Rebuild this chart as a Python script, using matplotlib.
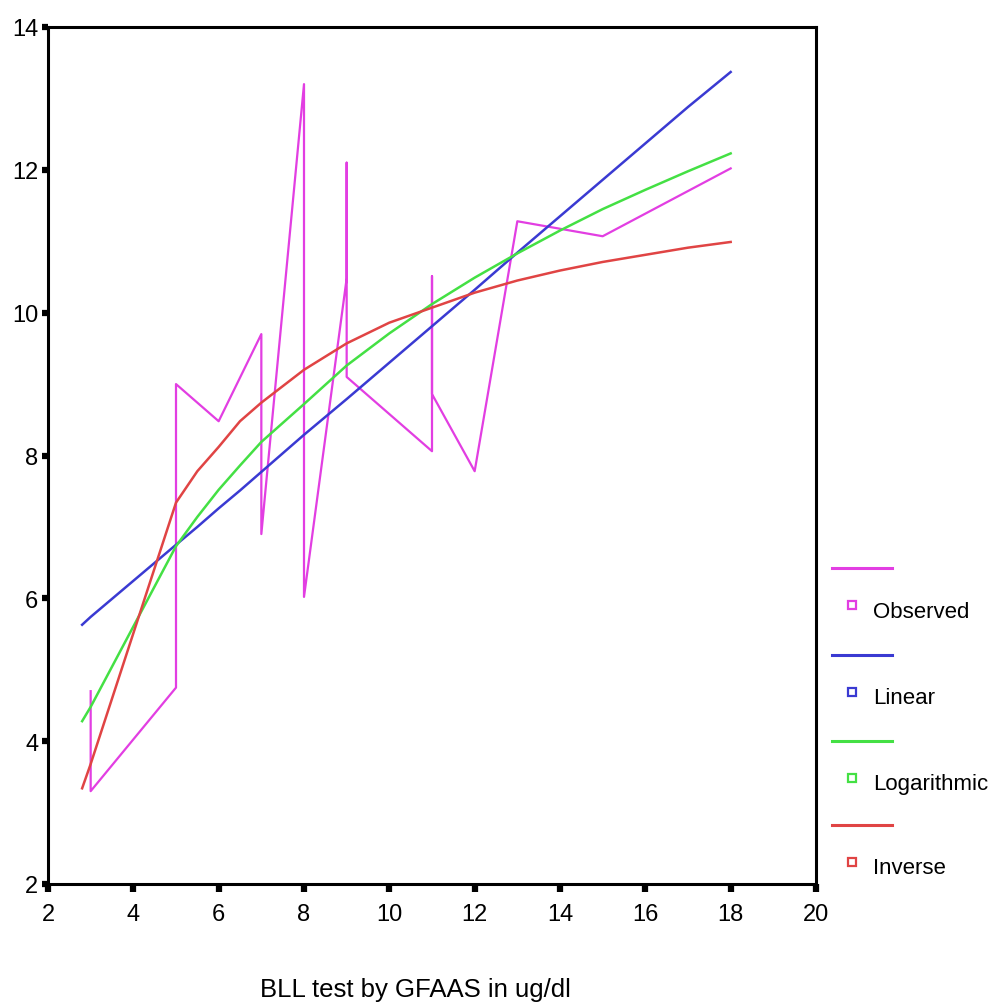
import matplotlib
matplotlib.use('Agg')
import matplotlib.pyplot as plt
from matplotlib.lines import Line2D

obs_x = [3, 3, 5, 5, 6, 7, 7, 8, 8, 9, 9, 9, 11, 11, 11, 12, 13, 15, 18]
obs_y = [4.70, 3.30, 4.75, 9.00, 8.48, 9.70, 6.90, 13.20, 6.02, 10.48, 12.10,
         9.10, 8.06, 10.51, 8.86, 7.78, 11.28, 11.07, 12.02]

# fitted curves, sampled where the picture shows them (straight from 3 to 5)
fit_x = [2.8, 3, 5, 5.5, 6, 6.5, 7, 8, 9, 10, 11, 12, 13, 14, 15, 16, 17, 18]
linear_y = [5.63, 5.74, 6.75, 7.00, 7.26, 7.51, 7.77, 8.29, 8.79, 9.30, 9.81,
            10.32, 10.84, 11.35, 11.86, 12.37, 12.88, 13.37]
log_y = [4.28, 4.48, 6.73, 7.14, 7.52, 7.86, 8.19, 8.72, 9.26, 9.71, 10.12,
         10.49, 10.83, 11.15, 11.45, 11.72, 11.98, 12.23]
inverse_y = [3.34, 3.68, 7.34, 7.78, 8.12, 8.48, 8.74, 9.20, 9.57, 9.86, 10.07,
             10.28, 10.45, 10.59, 10.71, 10.81, 10.91, 10.99]

labels = ['Observed', 'Linear', 'Logarithmic', 'Inverse']
colors = ['#e23ee2', '#3a3ad2', '#44e044', '#e04444']

xticks = [2, 4, 6, 8, 10, 12, 14, 16, 18, 20]
yticks = [2, 4, 6, 8, 10, 12, 14]

narrow = ['Liberation Sans Narrow', 'Liberation Sans', 'DejaVu Sans']

W, H = 997, 1003
fig = plt.figure(figsize=(W / 100, H / 100), dpi=100)
ax = fig.add_axes([48 / W, 1 - 885 / H, (816 - 48) / W, (885 - 28) / H])

ax.plot(obs_x, obs_y, color=colors[0], lw=1.6)
ax.plot(fit_x, linear_y, color=colors[1], lw=1.8)
ax.plot(fit_x, log_y, color=colors[2], lw=1.8)
ax.plot(fit_x, inverse_y, color=colors[3], lw=1.8)

ax.set_xlim(2, 20)
ax.set_ylim(2, 14)
ax.set_xticks(xticks)
ax.set_yticks(yticks)
for s in ax.spines.values():
    s.set_linewidth(2.2)
ax.tick_params(direction='out', length=6, width=4.5, pad=8, labelsize=17)
ax.tick_params(axis='y', length=4, pad=3)
for t in ax.get_xticklabels() + ax.get_yticklabels():
    t.set_family(narrow)

# x label sits a bit left of the axis centre, cut at the bottom edge
fig.text(415 / W, 1 - 997 / H, 'BLL test by GFAAS in ug/dl', ha='center',
         va='baseline', fontsize=18.5, family=['Liberation Sans', 'DejaVu Sans'])

# SPSS-style legend: a line, then a small square with the name under it
line_y = [569, 656, 742, 826]
for lab, c, ly in zip(labels, colors, line_y):
    fy = 1 - ly / H
    fig.add_artist(Line2D([832 / W, 892 / W], [fy, fy], color=c, lw=2.2))
    my = 1 - (ly + 37) / H
    fig.add_artist(Line2D([852 / W], [my], marker='s', ms=5.5, mfc='white',
                          mec=c, mew=1.6, ls='none'))
    fig.text(873 / W, 1 - (ly + 43) / H, lab, ha='left', va='center',
             fontsize=16, family=narrow)

fig.savefig('out.png', dpi=100)
